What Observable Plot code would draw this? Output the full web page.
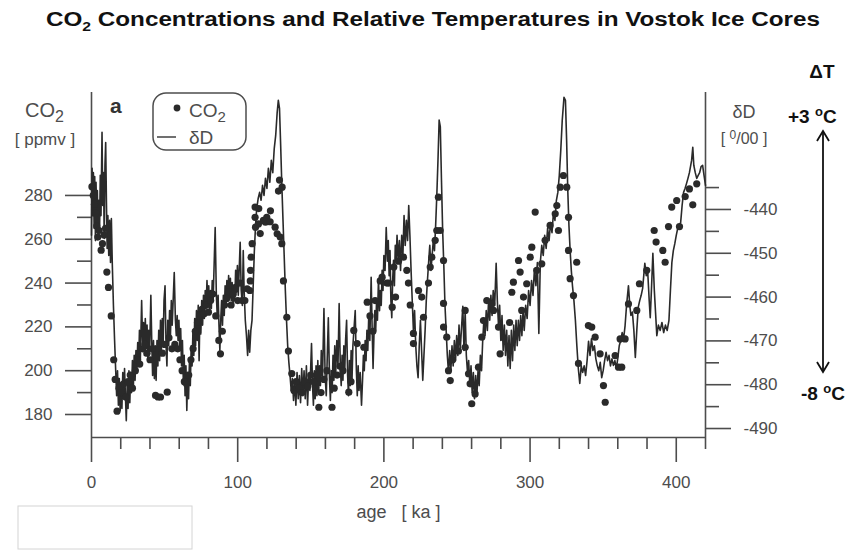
<!DOCTYPE html>
<html><head><meta charset="utf-8">
<script src="https://cdn.jsdelivr.net/npm/d3@7"></script>
<script src="https://cdn.jsdelivr.net/npm/@observablehq/plot@0.6"></script>
<style>body{margin:0;background:#fff} svg{display:block}</style>
</head><body><div id="chart"></div>
<script>
// δD series: [age ka, δD permil]
const deltaD = [
[0,-445.9],[0.4,-430.6],[0.9,-441.4],[1.3,-431.6],[1.8,-444.3],[2.2,-432.5],[2.7,-447.1],[3.1,-433.8],[3.6,-443.0],[4.0,-435.7],
[4.5,-446.2],[5.0,-437.9],[5.5,-445.3],[6.0,-432.2],[6.5,-441.4],[7.2,-422.4],[7.7,-439.1],[8.2,-431.6],[8.7,-446.6],[9.2,-430.0],
[9.7,-424.7],[10.2,-437.9],[10.7,-448.9],[11.2,-441.4],[11.8,-450.5],[12.4,-442.5],[13.0,-452.1],[13.6,-442.1],[14.2,-452.1],[15.0,-461.9],
[15.8,-469.9],[16.5,-476.3],[17.2,-482.5],[17.8,-476.8],[18.4,-484.7],[19.0,-478.6],[19.6,-485.9],[20.2,-479.5],[20.8,-485.4],[21.4,-477.2],
[22.0,-483.2],[22.6,-476.3],[23.2,-482.5],[23.8,-488.2],[24.4,-480.2],[25.0,-485.4],[25.6,-476.8],[26.2,-484.1],[26.8,-477.2],[27.4,-481.8],
[28.0,-474.5],[28.6,-480.9],[29.2,-473.3],[29.8,-479.0],[30.4,-472.2],[31.0,-477.2],[31.6,-470.4],[32.2,-475.7],[32.8,-467.6],[33.4,-474.5],
[34.3,-460.8],[35.0,-471.1],[35.6,-465.8],[36.2,-473.3],[36.8,-464.9],[37.4,-471.7],[38.0,-466.4],[38.6,-474.5],[39.2,-467.6],[39.8,-472.2],
[40.6,-459.6],[41.2,-469.9],[41.8,-477.9],[42.4,-469.9],[43.0,-478.6],[43.6,-471.1],[44.2,-479.0],[44.8,-469.9],[45.4,-475.7],[46.0,-467.6],
[46.6,-474.5],[47.2,-465.3],[47.8,-472.2],[48.4,-464.9],[49.0,-471.1],[49.6,-460.8],[50.3,-457.4],[51.0,-471.1],[51.6,-475.7],[52.2,-465.3],
[52.8,-471.1],[53.4,-463.1],[54.0,-468.8],[54.6,-460.8],[55.2,-466.4],[56.6,-454.4],[57.4,-465.3],[58.0,-468.8],[58.6,-464.2],[59.2,-469.9],
[59.8,-465.3],[60.4,-472.2],[61.0,-467.2],[61.6,-475.7],[62.2,-469.9],[62.8,-479.0],[63.4,-473.3],[64.0,-482.5],[64.6,-475.7],[65.2,-485.9],
[65.8,-477.2],[66.4,-483.2],[67.0,-474.5],[67.6,-480.2],[68.2,-471.1],[68.8,-475.7],[69.4,-467.6],[70.0,-473.3],[70.6,-464.9],[71.2,-471.1],
[71.8,-463.1],[72.4,-469.9],[73.0,-461.9],[73.6,-474.5],[74.2,-463.1],[74.8,-468.4],[75.4,-460.8],[76.0,-466.4],[76.6,-459.6],[77.2,-464.9],
[77.8,-458.5],[78.4,-462.6],[79.0,-456.2],[79.6,-461.9],[80.2,-457.4],[80.8,-463.1],[81.4,-458.5],[82.0,-462.6],[82.6,-456.2],[83.2,-460.8],
[84.6,-444.1],[85.4,-459.6],[86.0,-464.2],[86.6,-459.6],[87.2,-466.4],[87.8,-472.2],[88.4,-465.3],[89.0,-460.8],[89.6,-466.4],[90.2,-459.6],
[90.8,-464.2],[91.4,-457.4],[92.0,-461.9],[92.6,-456.2],[93.2,-460.8],[93.8,-455.1],[94.4,-460.3],[95.0,-455.7],[95.6,-460.8],[96.2,-456.7],
[96.8,-461.9],[97.4,-457.4],[98.0,-460.8],[98.6,-453.9],[99.2,-458.9],[99.8,-452.8],[100.4,-459.6],[101.7,-447.5],[102.4,-458.5],[103.2,-461.9],
[103.8,-449.4],[104.4,-458.5],[105.2,-465.3],[106.0,-468.8],[106.8,-473.3],[107.5,-467.6],[108.2,-472.6],[109.0,-467.6],[109.8,-465.3],[110.6,-457.4],
[111.4,-449.4],[112.2,-443.7],[113.0,-439.8],[114.0,-437.5],[115.0,-436.1],[116.0,-437.9],[117.0,-434.5],[118.0,-436.8],[119.0,-432.9],[120.0,-435.2],
[121.0,-430.6],[122.0,-433.8],[123.0,-428.8],[124.0,-431.6],[125.0,-426.1],[126.0,-423.1],[127.0,-417.9],[127.8,-415.1],[128.6,-416.9],[129.4,-425.4],
[130.2,-434.5],[131.0,-442.5],[131.8,-450.5],[132.6,-458.5],[133.4,-465.3],[134.2,-471.1],[135.0,-474.9],[135.8,-477.9],[136.6,-481.3],[137.4,-478.6],
[138.2,-483.6],[139.0,-479.0],[139.8,-484.7],[140.6,-477.2],[141.4,-483.2],[142.2,-477.9],[143.0,-484.1],[143.8,-476.3],[144.6,-482.5],[145.4,-476.8],
[146.2,-483.2],[147.0,-475.7],[147.8,-484.7],[148.6,-477.9],[149.4,-481.3],[150.5,-470.6],[151.2,-480.2],[151.8,-484.7],[152.4,-476.8],[153.0,-483.2],
[153.6,-475.7],[154.2,-482.5],[154.8,-474.5],[155.4,-481.8],[156.0,-475.7],[156.6,-480.2],[157.2,-472.2],[158.0,-479.0],[159.0,-462.6],[159.8,-477.9],
[160.6,-482.5],[161.2,-474.5],[162.0,-464.7],[162.8,-478.6],[163.4,-483.6],[164.0,-476.8],[164.6,-481.8],[165.2,-473.3],[165.8,-479.0],[166.4,-471.1],
[167.0,-477.9],[167.8,-469.9],[168.6,-475.7],[169.4,-461.5],[170.2,-475.7],[170.8,-480.2],[171.4,-473.3],[172.0,-479.0],[172.6,-471.1],[173.2,-477.2],
[173.8,-469.9],[174.5,-465.3],[175.2,-477.9],[175.8,-482.5],[176.4,-474.5],[177.0,-480.2],[177.6,-472.2],[178.2,-479.0],[178.8,-471.1],[179.5,-467.6],
[180.4,-463.1],[181.2,-476.8],[181.8,-482.5],[182.4,-475.7],[183.0,-481.3],[183.8,-477.2],[184.7,-484.7],[185.4,-479.0],[186.0,-473.3],[186.6,-476.8],
[187.2,-469.9],[187.8,-474.5],[188.4,-467.6],[189.0,-472.2],[189.6,-464.9],[190.4,-469.9],[191.3,-455.5],[192.0,-467.6],[192.6,-476.3],[193.2,-468.8],
[193.8,-463.1],[194.4,-467.6],[195.0,-460.8],[195.6,-465.3],[196.3,-455.8],[197.0,-463.1],[197.6,-458.5],[198.2,-461.9],[198.8,-453.9],[199.4,-458.5],
[200.0,-450.5],[200.8,-453.9],[201.6,-444.1],[202.4,-451.8],[203.0,-447.1],[203.6,-455.1],[204.2,-449.4],[204.8,-460.8],[205.4,-464.7],[206.0,-456.2],
[206.6,-451.6],[207.2,-457.4],[207.8,-448.2],[208.4,-451.8],[209.0,-445.9],[209.8,-451.6],[210.6,-447.1],[211.4,-453.9],[212.2,-445.9],[213.0,-450.5],
[213.8,-441.4],[214.6,-448.2],[215.4,-442.5],[216.2,-447.1],[217.0,-439.1],[217.8,-445.9],[218.6,-453.9],[219.4,-460.8],[220.2,-467.6],[221.0,-463.1],
[221.8,-471.1],[222.6,-475.7],[223.4,-478.4],[224.2,-471.1],[225.0,-465.3],[225.8,-472.2],[226.6,-479.0],[227.4,-473.3],[228.2,-467.6],[229.0,-460.8],
[229.8,-456.2],[230.6,-452.1],[231.4,-448.2],[232.2,-453.9],[233.0,-450.5],[233.8,-447.1],[234.6,-449.4],[235.4,-443.7],[236.2,-436.8],[237.0,-428.8],
[237.8,-419.6],[238.6,-421.1],[239.4,-433.4],[240.2,-444.8],[241.0,-452.8],[241.8,-461.9],[242.6,-467.6],[243.4,-473.3],[244.2,-477.2],[245.0,-472.2],
[245.8,-476.8],[246.6,-471.1],[247.4,-475.7],[248.2,-469.9],[249.0,-474.5],[249.8,-468.8],[250.6,-473.3],[251.4,-466.4],[252.2,-472.2],[253.0,-467.6],
[254.0,-462.1],[254.8,-472.2],[255.6,-463.1],[256.4,-473.3],[257.2,-477.2],[258.0,-474.5],[258.8,-480.2],[259.6,-475.7],[260.4,-481.8],[261.2,-477.2],
[262.0,-483.2],[262.8,-477.9],[263.6,-482.5],[264.4,-476.8],[265.2,-480.2],[266.0,-473.3],[266.8,-476.8],[267.6,-469.9],[268.4,-465.3],[269.2,-468.8],
[270.0,-463.1],[270.8,-467.6],[271.6,-460.8],[272.4,-465.3],[273.2,-459.6],[274.0,-464.2],[274.8,-458.5],[275.8,-461.9],[276.8,-452.3],[277.6,-460.8],
[278.4,-466.4],[279.2,-461.9],[280.0,-469.9],[280.8,-464.2],[281.6,-472.2],[282.4,-466.4],[283.2,-473.3],[284.0,-467.6],[284.8,-475.7],[285.6,-468.8],
[286.4,-476.3],[287.2,-467.6],[288.0,-474.5],[288.8,-466.4],[289.6,-472.2],[290.4,-465.3],[291.2,-471.1],[292.0,-465.3],[292.8,-469.9],[293.6,-464.2],
[294.4,-468.8],[295.2,-463.1],[296.0,-467.6],[297,-461.9],[298,-464.9],[299,-458.5],[300,-461.9],[301,-456.2],[302,-459.6],[303,-453.5],
[304,-457.4],[305,-452.1],[306,-468.3],[307,-452.1],[308,-448.2],[309,-450.5],[310,-445.9],[311,-448.9],[312,-444.3],[313,-447.1],
[314,-443.0],[315,-445.3],[316,-440.7],[317,-442.5],[318,-437.9],[319,-436.1],[320,-432.2],[321,-426.5],[322,-419.7],[323.2,-414.4],
[324.2,-415.1],[325.0,-424.2],[325.8,-435.7],[326.6,-443.7],[327.4,-449.4],[328.2,-453.9],[329,-457.4],[330,-460.8],[331,-465.3],[332,-471.1],
[333,-476.3],[334,-479.7],[335,-475.7],[336,-477.2],[337,-475.7],[338,-477.9],[339,-474.5],[340,-470.1],[341,-473.3],[342,-469.5],
[343,-472.2],[344,-471.1],[345,-474.1],[346,-475.7],[347,-476.8],[348,-474.9],[349,-478.4],[350,-476.8],[351,-474.5],[352,-472.6],
[353,-474.5],[354,-473.3],[355,-475.7],[356,-474.1],[357,-475.6],[358,-474.5],[359,-476.3],[360,-474.0],[361,-471.1],[362,-469.9],
[363,-468.1],[364,-469.5],[365,-466.5],[366,-461.9],[367.3,-457.4],[368.2,-461.9],[369,-464.2],[370,-463.4],[371,-467.6],[372,-473.8],
[373,-467.6],[374,-462.3],[375,-460.8],[376,-459.6],[377,-458.0],[378.5,-452.3],[379.5,-455.1],[380.5,-454.4],[381.5,-460.8],[382.2,-464.7],
[383,-458.5],[384,-450.0],[385,-458.5],[386.7,-468.8],[387.8,-466.4],[389,-467.6],[390.2,-465.8],[391.4,-468.1],[392.6,-466.4],[393.8,-467.6],
[395,-465.3],[396,-458.5],[397,-452.1],[398,-449.4],[399,-447.8],[400,-445.9],[401,-444.3],[402,-443.5],[403,-443.0],[404,-439.1],
[405,-436.1],[406,-435.2],[407,-434.1],[408,-432.9],[409,-431.6],[410.5,-428.8],[411.3,-425.8],[412,-429.9],[413,-431.6],[414,-432.9],
[415,-432.2],[416,-431.6],[417,-430.2],[418,-429.9],[419,-432.2],[420,-434.5]
];

// CO2 measurements: [age ka, ppmv]
const co2Points = [
[0.3,284],[1.2,280],[2.0,276],[2.8,272],[3.6,266],[4.3,261],[5.2,264],[6.6,255],[7.5,258],[8.6,262],[9.6,265],[10.5,245],[11.6,238],[13.5,225],
[15.2,205],[16.2,196],[17.5,181.5],[18.8,192],[20.5,190],[22.0,194],[23.5,188],[25.0,195],[26.5,198],[28.0,192],[30.0,200],[31.5,205],[33.0,203],
[35.0,210],[36.5,212],[38.0,208],[40.0,205],[41.5,210],[43.8,188.7],[45.5,188],[47.2,188],[48.5,208],[50.0,212],[51.8,190.2],[53.0,215],[55.0,210],
[57.0,212],[59.0,210],[60.5,205],[62.0,200],[63.5,195],[65.0,194],[66.5,198],[68.0,205],[69.5,210],[71.0,218],[72.5,222],[74.0,225],[75.5,228],
[77.0,226],[78.5,230],[80.0,226.7],[81.5,232],[83.0,235],[85.0,225],[87.1,213.8],[88.2,207.7],[89.5,218],[91.0,230],[92.5,233],[94.0,236],[95.5,230],
[97.0,235],[98.5,238],[100.0,232],[101.5,240],[103.0,232],[104.9,232],[106.5,237.4],
[108.3,236.6],[108.6,241],[108.8,245.8],[109.2,251.8],[109.9,258],[111.9,274.7],[111.9,270],[112.2,265.5],[114.2,267],[114.4,274],[115.4,262.6],
[117.6,268.6],[119,267.8],[119.9,270],[122.2,268],[122.4,273],[125.6,265.5],[127,262.5],[127.9,282],[128.6,287],[129.1,261],[130.4,283.8],[130.2,258],
[131.3,241],[133.6,224.4],[134.7,209],[137,198.7],
[138.5,191],[140,195],[142,192],[144,190],[146,195],[148,193],[150,198],[152,195],[155.5,183.3],[157,190],[159,196],[161,200],[164.5,183.3],[166,192],
[168,198],[170,202],[172,200],[176,190.2],[177.5,195],[179.4,218.4],[181.7,212.4],[186.3,210.7],[188.6,231.3],[190.5,225],[192.5,218],[194,232],
[197.5,241],[198.8,242.7],[202,240],[203.4,240],[205.7,229],[206.8,247.3],[208,233.6],[210,250],[213.4,251.8],[215.7,245.8],[216.8,240],[218,230],
[220.2,217],[220.2,212.4],[223.7,236.6],[225.9,233.6],[227.1,224.4],[230.5,240],[231.7,247.3],[232.8,251.8],[235.1,259.5],[236.2,264],[237.3,279.2],
[238.5,264],[240.8,250.3],[240.8,230.7],[240.8,219.9],[243,215.3],[244.2,200],[245.4,195.5],[247,205],[251,209],[255.6,227.5],[255.6,210.7],
[257.9,198.6],[259,194],[260.1,184.9],[262.4,189.4],[264.7,201.6],[267,215.3],[268.1,222.9],[270.4,232],[273.8,230.5],[275,227.5],[278.4,219.9],
[279.5,207.7],[282,215],[286,222],
[287.5,235.8],[288.6,240.4],[292.1,250.3],[293.2,245],[295.5,233.6],[294.3,227.5],[297.7,239.7],[300.1,251.8],[301.2,256.4],[303.5,272.4],[304.6,245.8],
[308,248.8],[310.3,259.5],[313.7,266.3],[317.2,271.6],[319.4,264],[318.3,275.4],[320.6,283.8],[322.8,289.1],[325.1,283.8],[326.3,270],[326.3,254.9],
[331.9,249.5],[327.4,242],[329.7,234.3],[333.1,203.3],[339.9,220.6],[342.2,219.9],[344.5,215.3],[347.9,207.7],[350.2,193.2],[351.4,185.6],
[358.2,206.9],[360.5,201.6],[362.7,201.6],[361.6,214.5],[365,214.5],[367.3,230.5],[373,227.5],[374.8,239.7],[379.8,245.8],[384.9,264],[386.2,258.7],
[390.8,254.9],[392.4,249.5],[394.7,265.8],[396.9,274.7],[400.3,277.7],[402.2,265.8],[406.1,279.5],[409,283],[411.3,275.7],[414,285.3]
];

const co2Ticks = [180, 200, 220, 240, 260, 280];
const co2Minor = [190, 210, 230, 250, 270];
const dDTicks = [-440, -450, -460, -470, -480, -490];
const dDMinor = [-435, -445, -455, -465, -475, -485];
const ageTicks = [0, 100, 200, 300, 400];
const ageMinor = [20, 40, 60, 80, 120, 140, 160, 180, 220, 240, 260, 280, 320, 340, 360, 380, 420];

// right axis (δD) is linear in the left one (CO2): 1 permil = 2 ppmv
const dDToCO2 = d => 1153.6 + 2 * d;
const co2ToDD = c => (c - 1153.6) / 2;

const lineData = deltaD.map(([age, dD]) => ({age, dD}));
const dotData = co2Points.map(([age, co2]) => ({age, co2}));

const ink = "#4d4d4d";
const dark = "#2a2a2a";
const font = "'Liberation Sans', Arial, Helvetica, sans-serif";

const chart = Plot.plot({
  width: 856, height: 551,
  marginLeft: 91, marginRight: 151, marginTop: 92, marginBottom: 114,
  style: {fontFamily: font, fontSize: "17px", color: ink, background: "#fff", overflow: "visible"},
  x: {domain: [0, 420]},
  y: {domain: [169.5, 327]},
  marks: [
    Plot.axisY(co2Ticks, {anchor: "left", tickSize: 26, tickPadding: 13, strokeWidth: 1.6, fontSize: 17, label: null}),
    Plot.axisY(co2Minor, {anchor: "left", tickSize: 14, strokeWidth: 1.6, tickFormat: () => "", label: null}),
    Plot.axisY(dDTicks.map(dDToCO2), {anchor: "right", tickSize: 25, tickPadding: 13, strokeWidth: 1.6, fontSize: 17,
      tickFormat: v => String(Math.round(co2ToDD(v))), label: null}),
    Plot.axisY(dDMinor.map(dDToCO2), {anchor: "right", tickSize: 13, strokeWidth: 1.6, tickFormat: () => "", label: null}),
    Plot.axisX(ageTicks, {anchor: "bottom", tickSize: 25, tickPadding: 13, strokeWidth: 1.6, fontSize: 17, label: null}),
    Plot.axisX(ageMinor, {anchor: "bottom", tickSize: 12, strokeWidth: 1.6, tickFormat: () => "", label: null}),
    Plot.ruleX([0, 420], {stroke: ink, strokeWidth: 1.6}),
    Plot.ruleY([169.5], {stroke: ink, strokeWidth: 1.6}),
    Plot.line(lineData, {x: "age", y: d => dDToCO2(d.dD), stroke: dark, strokeWidth: 1.6}),
    Plot.dot(dotData, {x: "age", y: "co2", r: 3.6, fill: dark, stroke: "none"}),
    Plot.text(["age   [ ka ]"], {frameAnchor: "bottom", dy: 80, fontSize: 18, fill: ink})
  ]
});

const svg = d3.select(chart);
function txt(x, y, opts = {}) {
  return svg.append("text").attr("x", x).attr("y", y)
    .attr("font-family", font)
    .attr("font-size", opts.size || 17)
    .attr("font-weight", opts.weight || "normal")
    .attr("fill", opts.fill || ink)
    .attr("text-anchor", opts.anchor || "start");
}
// title
const t = txt(46, 26, {size: 20, weight: "bold", fill: "#111"})
  .attr("textLength", 774).attr("lengthAdjust", "spacingAndGlyphs");
t.append("tspan").text("CO");
t.append("tspan").attr("font-size", 13).attr("dy", 5).text("2");
t.append("tspan").attr("dy", -5).text(" Concentrations and Relative Temperatures in Vostok Ice Cores");

// left axis title
const lc = txt(25, 117, {size: 20});
lc.append("tspan").text("CO");
lc.append("tspan").attr("font-size", 16).attr("dy", 5).text("2");
txt(45, 145, {size: 17, anchor: "middle"}).text("[ ppmv ]");

// panel letter
txt(110, 113, {size: 21, weight: "bold", fill: "#333"}).text("a");

// legend
svg.append("rect").attr("x", 153).attr("y", 93).attr("width", 93).attr("height", 57).attr("rx", 13)
  .attr("fill", "none").attr("stroke", ink).attr("stroke-width", 1.5);
svg.append("circle").attr("cx", 177).attr("cy", 108).attr("r", 3.4).attr("fill", dark);
const lg = txt(189, 117, {size: 19});
lg.append("tspan").text("CO");
lg.append("tspan").attr("font-size", 15).attr("dy", 5).text("2");
svg.append("line").attr("x1", 157).attr("x2", 176).attr("y1", 137).attr("y2", 137).attr("stroke", ink).attr("stroke-width", 1.6);
txt(189, 144, {size: 19}).text("δD");

// right axis title
txt(744, 118, {size: 18, anchor: "middle"}).text("δD");
const pm = txt(744, 144, {size: 16, anchor: "middle"});
pm.append("tspan").text("[ ");
pm.append("tspan").attr("font-size", 12).attr("dy", -5).text("0");
pm.append("tspan").attr("dy", 5).text("/00 ]");

// temperature annotation
txt(822, 78, {size: 19, weight: "bold", fill: "#111", anchor: "middle"}).text("ΔT");
const p3 = txt(788, 123, {size: 19, weight: "bold", fill: "#111"});
p3.append("tspan").text("+3 ");
p3.append("tspan").attr("font-size", 13).attr("dy", -7).text("o");
p3.append("tspan").attr("dy", 7).text("C");
const m8 = txt(801, 400, {size: 19, weight: "bold", fill: "#111"});
m8.append("tspan").text("-8 ");
m8.append("tspan").attr("font-size", 13).attr("dy", -7).text("o");
m8.append("tspan").attr("dy", 7).text("C");
svg.append("line").attr("x1", 823).attr("x2", 823).attr("y1", 131).attr("y2", 372)
  .attr("stroke", "#111").attr("stroke-width", 1.8);
svg.append("polyline").attr("points", "817,141 823,131 829,141").attr("fill", "none").attr("stroke", "#111").attr("stroke-width", 1.8);
svg.append("polyline").attr("points", "817,362 823,372 829,362").attr("fill", "none").attr("stroke", "#111").attr("stroke-width", 1.8);

// blank box at lower left of the original scan
svg.append("rect").attr("x", 18).attr("y", 506).attr("width", 174).attr("height", 43)
  .attr("fill", "#fff").attr("stroke", "#d4d4d4").attr("stroke-width", 1);

document.getElementById("chart").appendChild(chart);
</script>
</body></html>
